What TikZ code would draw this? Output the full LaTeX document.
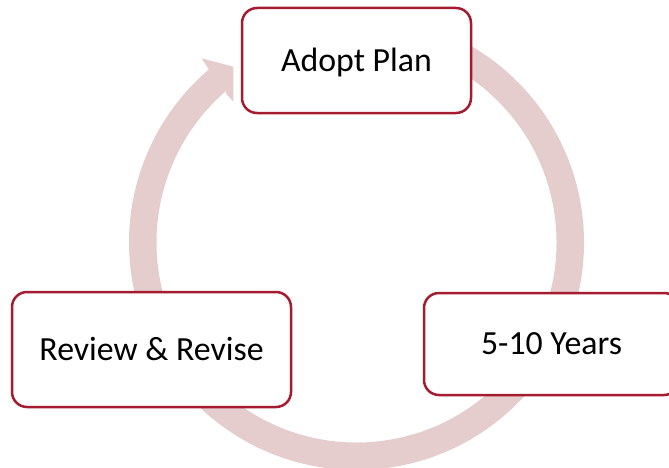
\documentclass[tikz,border=0pt]{standalone}
\usepackage{fontspec}
\setmainfont{Carlito}
\usetikzlibrary{calc}
\definecolor{ringc}{RGB}{229,204,205}
\definecolor{boxc}{RGB}{165,28,48}
\begin{document}
\begin{tikzpicture}[x=1pt,y=1pt,
  stage/.style={draw=boxc, line width=2.5pt, fill=white, rounded corners=15pt,
    font=\fontsize{33.8}{40}\selectfont, text height=21.7pt, text depth=0pt,
    inner sep=0pt, align=center},
  ringline/.style={draw=ringc, line width=27.5pt}]
\useasboundingbox (0,0) rectangle (669,467);
\clip (0,0) rectangle (669,467);
\coordinate (C) at (356.5,224.5);
\draw[ringline] ($(C)+(95:213.75)$) arc[start angle=95, end angle=-229.8, radius=213.75];
\fill[ringc] ($(C)+(130.5:227.5)$) -- (201.7,408.7) -- (233.3,400.3) -- (233.3,365.3)
  -- (225.5,374) -- ($(C)+(130.5:200)$) -- cycle;
\node[stage, minimum width=229pt, minimum height=105pt] (adopt) at (356.5,406.5) {Adopt Plan};
\node[stage, minimum width=279pt, minimum height=115pt] (review) at (151.5,117.5) {Review \& Revise};
\node[stage, minimum width=255pt, minimum height=102pt] (years) at (551.5,123) {5-10 Years};
\end{tikzpicture}
\end{document}
